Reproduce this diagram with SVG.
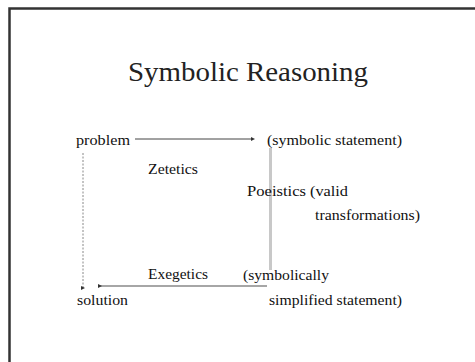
<svg xmlns="http://www.w3.org/2000/svg" width="475" height="362" viewBox="0 0 475 362">
<style>
  text { font-family: 'Liberation Serif', 'Times New Roman', Times, 'DejaVu Serif', serif; }
  .t { font-size: 15px; fill: #111; }
  .title { font-size: 28px; fill: #222; }
</style>
<defs>
  <marker id="dot" viewBox="0 0 6 6" refX="3" refY="3" markerWidth="4" markerHeight="4" markerUnits="userSpaceOnUse">
    <path d="M0,0 L6,3 L0,6 z" fill="#333"/>
  </marker>
</defs>
<rect x="0" y="0" width="475" height="362" fill="#fff"/>
<rect x="9.5" y="8.5" width="480" height="370" fill="none" stroke="#333" stroke-width="2.5"/>
<text class="title" font-family="Liberation Serif, serif" x="128" y="81" textLength="240" lengthAdjust="spacingAndGlyphs">Symbolic Reasoning</text>
<g id="connectors">
  <line x1="135" y1="139" x2="253" y2="139" stroke="#444" stroke-width="1" marker-end="url(#dot)"/>
  <line x1="83" y1="153" x2="83" y2="288" stroke="#888" stroke-width="1" stroke-dasharray="2,1.5" marker-end="url(#dot)"/>
  <line x1="270.5" y1="148" x2="270.5" y2="270" stroke="#c8c8c8" stroke-width="3"/>
  <line x1="267" y1="286" x2="100" y2="286" stroke="#888" stroke-width="1.5" marker-end="url(#dot)"/>
</g>
<g id="problem"><text class="t" x="76" y="145" textLength="54" lengthAdjust="spacingAndGlyphs">problem</text></g>
<g id="symbolic-statement"><text class="t" x="267" y="145" textLength="135" lengthAdjust="spacingAndGlyphs">(symbolic statement)</text></g>
<g id="zetetics"><text class="t" x="148" y="174" textLength="50" lengthAdjust="spacingAndGlyphs">Zetetics</text></g>
<g id="poeistics">
  <text class="t" x="247" y="196" textLength="59" lengthAdjust="spacingAndGlyphs">Poeistics</text>
  <text class="t" x="310" y="196" textLength="38" lengthAdjust="spacingAndGlyphs">(valid</text>
  <text class="t" x="315" y="220" textLength="105" lengthAdjust="spacingAndGlyphs">transformations)</text>
</g>
<g id="exegetics"><text class="t" x="148" y="279" textLength="60" lengthAdjust="spacingAndGlyphs">Exegetics</text></g>
<g id="simplified-statement">
  <text class="t" x="243" y="280" textLength="86" lengthAdjust="spacingAndGlyphs">(symbolically</text>
  <text class="t" x="269" y="305" textLength="133" lengthAdjust="spacingAndGlyphs">simplified statement)</text>
</g>
<g id="solution"><text class="t" x="77" y="305" textLength="51" lengthAdjust="spacingAndGlyphs">solution</text></g>
</svg>
